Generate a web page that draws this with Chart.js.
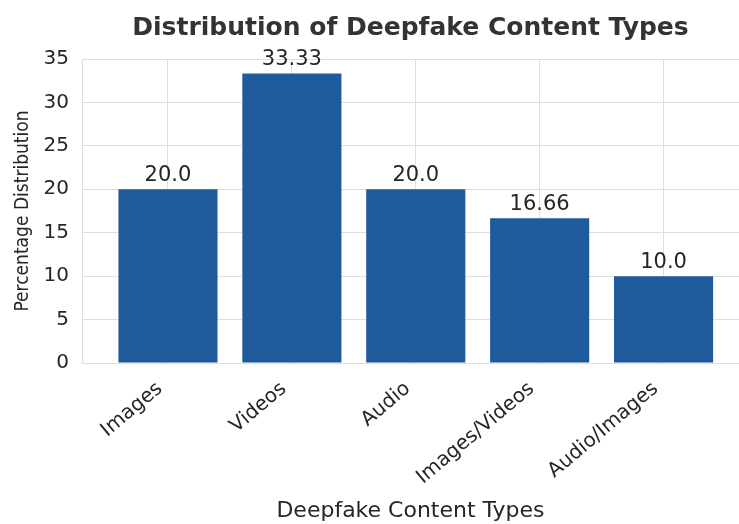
<!DOCTYPE html>
<html>
<head>
<meta charset="utf-8">
<script src="https://cdn.jsdelivr.net/npm/chart.js@4.4.1/dist/chart.umd.min.js"></script>
<style>
  html, body { margin: 0; padding: 0; background: #fff; }
  #wrap { width: 739px; height: 524px; position: relative; }
</style>
</head>
<body>
<div id="wrap"><canvas id="deepfakeChart"></canvas></div>
<script>
// data
var contentTypes = ['Images', 'Videos', 'Audio', 'Images/Videos', 'Audio/Images'];
var percentValues = [20.0, 33.33, 20.0, 16.66, 10.0];
var yTicks = [0, 5, 10, 15, 20, 25, 30, 35];

var barColor = '#1e5a9c';
var gridColor = '#dedede';
var textColor = '#262626';
var fontFamily = "'DejaVu Sans', sans-serif";

function fmtValue(v) {
    // matplotlib-like float text: 20 -> 20.0
    return Number.isInteger(v) ? v.toFixed(1) : String(v);
}

// draw value text on top of each bar
var valueLabels = {
    id: 'valueLabels',
    afterDatasetsDraw: function(chart) {
        var ctx = chart.ctx;
        var meta = chart.getDatasetMeta(0);
        ctx.save();
        ctx.font = '21px ' + fontFamily;
        ctx.fillStyle = textColor;
        ctx.textAlign = 'center';
        ctx.textBaseline = 'bottom';
        meta.data.forEach(function(bar, i) {
            ctx.fillText(fmtValue(percentValues[i]), bar.x, bar.y - 3);
        });
        ctx.restore();
    }
};

var ctx = document.getElementById('deepfakeChart').getContext('2d');
var chart = new Chart(ctx, {
    type: 'bar',
    data: {
        datasets: [{
            data: percentValues.map(function(v, i) { return { x: i, y: v }; }),
            backgroundColor: barColor,
            borderWidth: 0,
            barPercentage: 0.8,
            categoryPercentage: 1.0
        }]
    },
    plugins: [valueLabels],
    options: {
        responsive: true,
        maintainAspectRatio: false,
        animation: false,
        layout: { padding: { left: 12, right: 0, top: 0, bottom: 0 } },
        plugins: {
            legend: { display: false },
            tooltip: { enabled: false },
            title: {
                display: true,
                fullSize: false,
                text: 'Distribution of Deepfake Content Types',
                color: '#333333',
                font: { family: fontFamily, size: 25, weight: 'bold' },
                padding: { top: 13, bottom: 16 }
            }
        },
        scales: {
            x: {
                type: 'linear',
                offset: false,
                min: -0.694,
                max: 4.609,
                afterBuildTicks: function(scale) {
                    scale.ticks = contentTypes.map(function(c, i) { return { value: i }; });
                },
                afterFit: function(scale) { scale.height = 161; },
                ticks: {
                    color: textColor,
                    font: { family: fontFamily, size: 20 },
                    minRotation: 40,
                    maxRotation: 40,
                    padding: 14,
                    labelOffset: -8,
                    callback: function(v) { return contentTypes[v]; }
                },
                grid: { color: gridColor, drawTicks: false, offset: false },
                border: { color: gridColor },
                title: {
                    display: true,
                    text: 'Deepfake Content Types',
                    color: textColor,
                    font: { family: fontFamily, size: 22 },
                    padding: { top: 0, bottom: 0 }
                }
            },
            y: {
                min: 0,
                max: 35,
                afterBuildTicks: function(scale) {
                    scale.ticks = yTicks.map(function(t) { return { value: t }; });
                },
                afterFit: function(scale) { scale.width = 70; },
                ticks: {
                    color: textColor,
                    font: { family: fontFamily, size: 20 },
                    padding: 13
                },
                grid: { color: gridColor, drawTicks: false },
                border: { color: gridColor },
                title: {
                    display: true,
                    text: 'Percentage Distribution',
                    color: textColor,
                    font: { family: "'DejaVu Sans Condensed', 'Liberation Sans Narrow', sans-serif", size: 19 },
                    padding: { top: 0, bottom: 0 }
                }
            }
        }
    }
});
</script>
</body>
</html>
